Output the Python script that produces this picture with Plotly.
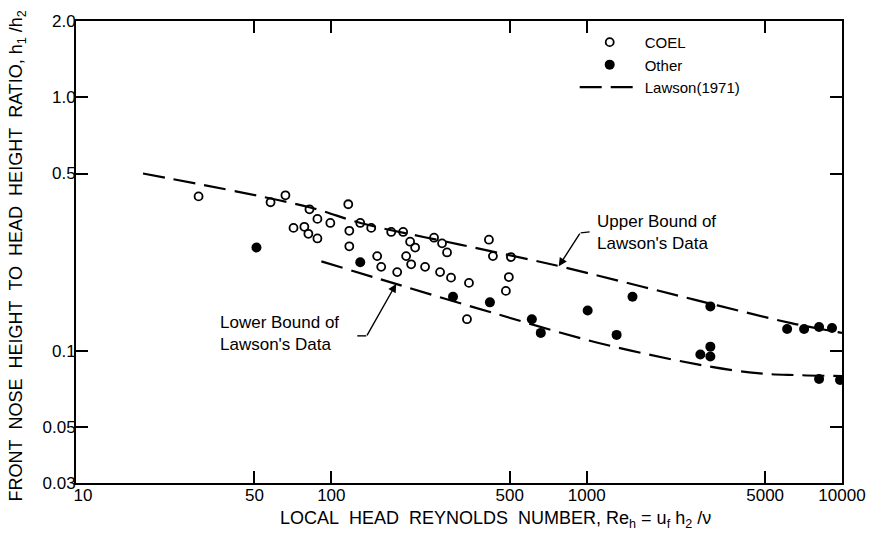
import plotly.graph_objects as go

# ---------------- data ----------------
coel_re = [30.2, 57.8, 66.1, 82.1, 88.2, 99.1, 71.1, 78.4, 81.3, 88.2,
           116.5, 117.6, 117.6, 129.8, 143.3, 171.6, 191.1, 203.5, 212.9, 252.5,
           271.4, 283.9, 151.2, 156.8, 181.1, 196.3, 205.4, 232.9, 266.6, 294.3,
           346.0, 414.2, 429.4, 505.0, 495.7, 482.6, 339.8]
coel_ratio = [0.406, 0.385, 0.410, 0.361, 0.331, 0.319, 0.305, 0.308, 0.289, 0.277,
              0.378, 0.297, 0.258, 0.319, 0.305, 0.294, 0.294, 0.269, 0.255, 0.279,
              0.265, 0.244, 0.236, 0.214, 0.204, 0.236, 0.219, 0.214, 0.204, 0.194,
              0.185, 0.274, 0.236, 0.234, 0.195, 0.172, 0.133]

other_re = [50.9, 129.8, 299.6, 417.9, 609.9, 661.2, 1009, 1512, 1310, 3051,
            2788, 3051, 3051, 6098, 7105, 8133, 9140, 8133, 9822]
other_ratio = [0.255, 0.223, 0.163, 0.155, 0.133, 0.1174, 0.144, 0.163, 0.1153, 0.1494,
               0.0965, 0.1036, 0.0948, 0.1217, 0.1217, 0.1239, 0.1228, 0.0772, 0.0765]

upper_re = [18.3, 82, 130, 319, 771, 1655, 3251, 6383, 10000]
upper_ratio = [0.50, 0.368, 0.319, 0.262, 0.216, 0.1786, 0.1508, 0.128, 0.1174]

lower_re = [91.4, 183, 449, 1104, 2717, 4654, 6671, 10000]
lower_ratio = [0.225, 0.182, 0.139, 0.1074, 0.0882, 0.0814, 0.080, 0.0793]

x_tickvals = [10, 50, 100, 500, 1000, 5000, 10000]
x_ticktext = ["&nbsp;&nbsp;&nbsp;10", "50", "100", "500", "1000", "5000", "10000"]
y_tickvals = [0.03, 0.05, 0.1, 0.5, 1.0, 2.0]
y_ticktext = ["0.03", "0.05", "0.1", "0.5", "1.0", "2.0"]

# ---------------- figure ----------------
W, H = 878, 544
L, R, T, B = 76, 34, 12, 61
FONT = "Liberation Sans"
X_RANGE = [1, 4]
Y_RANGE = [-1.5229, 0.30103]


def px(x):
    return (x - L) / (W - L - R)


def py(y):
    return (H - B - y) / (H - T - B)


fig = go.Figure()
dash = "22px,9px"
fig.add_trace(go.Scatter(x=coel_re, y=coel_ratio, mode="markers", name="COEL",
                         marker=dict(symbol="circle-open", size=8, color="black",
                                     line=dict(width=1.8, color="black"))))
fig.add_trace(go.Scatter(x=other_re, y=other_ratio, mode="markers", name="Other",
                         marker=dict(symbol="circle", size=10, color="black")))
fig.add_trace(go.Scatter(x=upper_re, y=upper_ratio, mode="lines", name="Lawson(1971)",
                         line=dict(color="black", width=2.2, dash=dash, shape="spline")))
fig.add_trace(go.Scatter(x=lower_re, y=lower_ratio, mode="lines", name="Lawson lower",
                         showlegend=False,
                         line=dict(color="black", width=2.2, dash=dash, shape="spline")))

axis_common = dict(showgrid=False, zeroline=False, showline=True, linecolor="black",
                   linewidth=2, ticks="inside", ticklen=12, tickwidth=2,
                   tickcolor="black", mirror="ticks",
                   tickfont=dict(family=FONT, size=17, color="black"))

fig.update_xaxes(type="log", range=X_RANGE, tickvals=x_tickvals, ticktext=x_ticktext,
                 ticklabelstandoff=-4, **axis_common)
fig.update_yaxes(type="log", range=Y_RANGE, tickvals=y_tickvals,
                 ticktext=y_ticktext, ticklabelstandoff=-5, **axis_common)

annots = []
annots.append(dict(xref="paper", yref="paper", x=px(497), y=py(520),
                   text="LOCAL&nbsp;&nbsp;HEAD&nbsp;&nbsp;REYNOLDS&nbsp;&nbsp;NUMBER, Re<sub>h</sub> = u<sub>f</sub> h<sub>2</sub> /ν",
                   showarrow=False, font=dict(family=FONT, size=18, color="black"),
                   xanchor="center", yanchor="middle"))
annots.append(dict(xref="paper", yref="paper", x=px(17), y=py(252),
                   text="FRONT&nbsp;&nbsp;NOSE&nbsp;&nbsp;HEIGHT&nbsp;&nbsp;TO&nbsp;&nbsp;HEAD&nbsp;&nbsp;HEIGHT&nbsp;&nbsp;RATIO, h<sub>1</sub> /h<sub>2</sub>",
                   showarrow=False, textangle=-90,
                   font=dict(family=FONT, size=18, color="black"),
                   xanchor="center", yanchor="middle"))
annots.append(dict(xref="paper", yref="paper", x=px(596), y=py(228),
                   text="Upper Bound of<br>Lawson's Data", showarrow=False, align="left",
                   font=dict(family=FONT, size=17, color="black"),
                   xanchor="left", yanchor="middle"))
annots.append(dict(xref="paper", yref="paper", x=px(218), y=py(331),
                   text="Lower Bound of<br>Lawson's Data", showarrow=False, align="left",
                   font=dict(family=FONT, size=17, color="black"),
                   xanchor="left", yanchor="middle"))
annots.append(dict(xref="paper", yref="paper", x=px(560), y=py(262), text="",
                   showarrow=True, ax=22, ay=-34,
                   arrowhead=2, arrowsize=1.2, arrowwidth=1.4, arrowcolor="black",
                   standoff=0))
annots.append(dict(xref="paper", yref="paper", x=px(397), y=py(280), text="",
                   showarrow=True, ax=-30, ay=53,
                   arrowhead=2, arrowsize=1.2, arrowwidth=1.4, arrowcolor="black",
                   standoff=0))

shapes = [
    dict(type="line", xref="paper", yref="paper", x0=px(582), y0=py(228),
         x1=px(591), y1=py(227), line=dict(color="black", width=1.4)),
    dict(type="line", xref="paper", yref="paper", x0=px(358), y0=py(333),
         x1=px(367), y1=py(333), line=dict(color="black", width=1.4)),
]

fig.update_layout(
    width=W, height=H,
    margin=dict(l=L, r=R, t=T, b=B),
    paper_bgcolor="white", plot_bgcolor="white",
    font=dict(family=FONT, size=16, color="black"),
    showlegend=True,
    legend=dict(x=px(576), y=py(17), xanchor="left", yanchor="top",
                bgcolor="rgba(0,0,0,0)", borderwidth=0, itemwidth=60,
                font=dict(family=FONT, size=15, color="black"),
                tracegroupgap=0),
    annotations=annots,
    shapes=shapes,
)

fig.write_html("out.html")
